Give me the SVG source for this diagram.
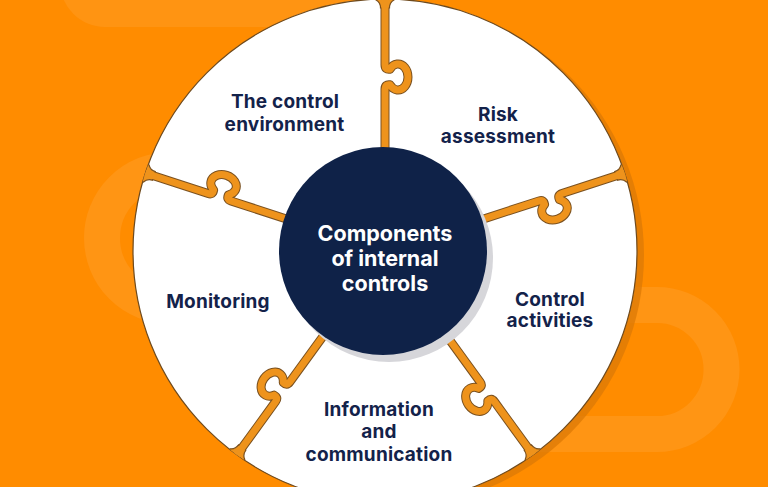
<svg xmlns="http://www.w3.org/2000/svg" width="768" height="487" viewBox="0 0 768 487">
<defs>
<style>
.lbl{font-family:Inter,"Liberation Sans",sans-serif;font-weight:700;font-size:19px;letter-spacing:0.2px;fill:#13224A;text-anchor:middle}
.ctr{font-family:Inter,"Liberation Sans",sans-serif;font-weight:700;font-size:21.5px;fill:#ffffff;text-anchor:middle}
.deco{fill:none;stroke:#ffffff;stroke-opacity:0.08;stroke-width:36}
.seamO{fill:none;stroke:#7A5120;stroke-width:9;stroke-linejoin:round}
.seamI{fill:none;stroke:#EE931C;stroke-width:7;stroke-linejoin:round}
.flare{fill:#EE931C;stroke:#7A5120;stroke-width:1.2}
</style>
<clipPath id="cc"><circle cx="385" cy="251" r="252"/></clipPath>
<path id="seam" d="M 98 0 H 162 Q 167 0 166.2 5 A 13 10 0 1 0 181.8 5 Q 181 0 186 0 H 262"/>
<path id="flare" d="M 243 -4.5 Q 248.5 -4.5 251 -9 L 262 -9 L 262 9 L 251 9 Q 248.5 4.5 243 4.5 Z"/>
</defs>
<rect x="0" y="0" width="768" height="487" fill="#FF8C00"/>
<g id="decoration">
<rect x="60" y="-80" width="330" height="107" rx="45" fill="#ffffff" fill-opacity="0.07"/>
<path class="deco" d="M 260 170 H 170 A 68 68 0 0 0 170 306 H 260"/>
<path class="deco" d="M 520 305 H 657 A 64.5 64.5 0 0 1 657 434 H 520"/>
</g>
<circle cx="392" cy="255" r="252" fill="#DC7A05" fill-opacity="0.75"/>
<circle cx="385" cy="251" r="252" fill="#ffffff" stroke="#6E4A1E" stroke-width="1.2"/>
<g id="connectors" clip-path="url(#cc)">
<g transform="translate(385 251) rotate(-90)"><use href="#seam" class="seamO"/><use href="#flare" class="flare"/><use href="#seam" class="seamI"/></g>
<g transform="translate(385 251) rotate(-18)"><use href="#seam" class="seamO"/><use href="#flare" class="flare"/><use href="#seam" class="seamI"/></g>
<g transform="translate(385 251) rotate(54)"><use href="#seam" class="seamO"/><use href="#flare" class="flare"/><use href="#seam" class="seamI"/></g>
<g transform="translate(385 251) rotate(126)"><use href="#seam" class="seamO"/><use href="#flare" class="flare"/><use href="#seam" class="seamI"/></g>
<g transform="translate(385 251) rotate(198)"><use href="#seam" class="seamO"/><use href="#flare" class="flare"/><use href="#seam" class="seamI"/></g>
</g>
<g id="center">
<circle cx="389" cy="258" r="104" fill="#D6D6DA"/>
<circle cx="383" cy="251" r="104" fill="#0F2248"/>
<text class="ctr" x="385" y="241">Components</text>
<text class="ctr" x="385" y="266">of internal</text>
<text class="ctr" x="385" y="291">controls</text>
</g>
<g id="control-environment">
<text class="lbl" x="285" y="108.3">The control</text>
<text class="lbl" x="284.5" y="130.7">environment</text>
</g>
<g id="risk-assessment">
<text class="lbl" x="498" y="120.7">Risk</text>
<text class="lbl" x="498" y="143.3">assessment</text>
</g>
<g id="control-activities">
<text class="lbl" x="550" y="305.7">Control</text>
<text class="lbl" x="550" y="327.3">activities</text>
</g>
<g id="information-communication">
<text class="lbl" x="379" y="415.7">Information</text>
<text class="lbl" x="379" y="438.3">and</text>
<text class="lbl" x="379" y="460.7">communication</text>
</g>
<g id="monitoring">
<text class="lbl" x="218" y="308">Monitoring</text>
</g>
</svg>
